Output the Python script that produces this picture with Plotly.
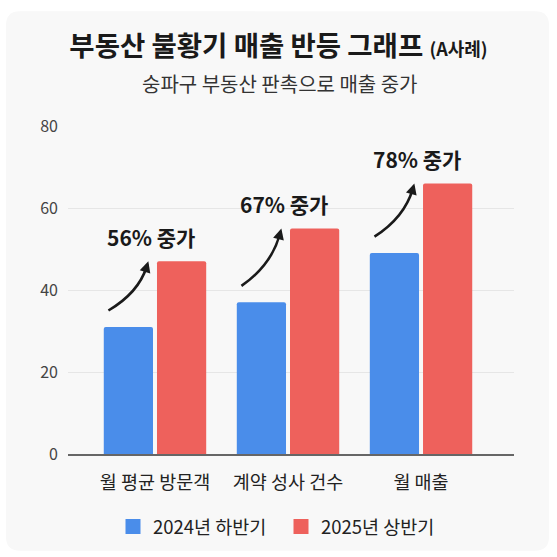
import plotly.graph_objects as go

categories = ["월 평균 방문객", "계약 성사 건수", "월 매출"]
series_names = ["2024년 하반기", "2025년 상반기"]
values_2024 = [31, 37, 49]
values_2025 = [47, 55, 66]
growth_labels = ["56% 중가", "67% 중가", "78% 중가"]
y_ticks = [0, 20, 40, 60, 80]

BLUE = "#4a8dea"
RED = "#ee615c"
FONT = "Noto Sans CJK KR"

W, H = 557, 557
ML, MR, MT, MB = 68, 43, 126, 102
XR = [-0.654, 2.699]
YR = [0, 80]
pw = W - ML - MR
ph = H - MT - MB
px_x = (XR[1] - XR[0]) / pw   # data units per pixel
px_y = (YR[1] - YR[0]) / ph

xs = list(range(len(categories)))

fig = go.Figure()
fig.add_trace(go.Bar(x=xs, y=values_2024, name=series_names[0], marker_color=BLUE,
                     marker_line_width=0, showlegend=False))
fig.add_trace(go.Bar(x=xs, y=values_2025, name=series_names[1], marker_color=RED,
                     marker_line_width=0, showlegend=False))
# legend proxies
for nm, col in zip(series_names, [BLUE, RED]):
    fig.add_trace(go.Scatter(x=[None], y=[None], mode="markers", name=nm,
                             marker=dict(symbol="square", size=15, color=col)))

def px2paper_x(p):
    return (p - ML) / pw

def px2paper_y(p):
    return (H - MB - p) / ph

# card background
cx0, cx1, cy0, cy1, r = 6, 549, 11, 552, 14
def P(x, y):
    return f"{px2paper_x(x):.5f},{px2paper_y(y):.5f}"
card = (f"M {P(cx0 + r, cy0)} L {P(cx1 - r, cy0)} Q {P(cx1, cy0)} {P(cx1, cy0 + r)} "
        f"L {P(cx1, cy1 - r)} Q {P(cx1, cy1)} {P(cx1 - r, cy1)} "
        f"L {P(cx0 + r, cy1)} Q {P(cx0, cy1)} {P(cx0, cy1 - r)} "
        f"L {P(cx0, cy0 + r)} Q {P(cx0, cy0)} {P(cx0 + r, cy0)} Z")
shapes = [dict(type="path", xref="paper", yref="paper", path=card,
               fillcolor="#f8f8f8", line=dict(width=0), layer="below")]

annotations = []
# subtitle
annotations.append(dict(xref="paper", yref="paper", x=px2paper_x(280), y=px2paper_y(83.5),
                        text="숭파구 부동산 판촉으로 매출 중가", showarrow=False,
                        xanchor="center", yanchor="middle",
                        font=dict(family=FONT, size=20, color="#333333")))

# growth arrows and labels
for i, (b, rv, lab) in enumerate(zip(values_2024, values_2025, growth_labels)):
    x0, y0 = i - 0.35, b + 4
    x2, y2 = i - 0.05, rv
    dx, dy = x2 - x0, y2 - y0
    cxp, cyp = x0 + 0.75 * dx, y0 + 0.36 * dy
    tx, ty = (x2 - cxp) / px_x, (y2 - cyp) / px_y
    n = (tx ** 2 + ty ** 2) ** 0.5
    ux, uy = tx / n, ty / n
    back = 6
    ex, ey = x2 - ux * back * px_x, y2 - uy * back * px_y
    shapes.append(dict(type="path", xref="x", yref="y",
                       path=f"M {x0},{y0} Q {cxp},{cyp} {ex},{ey}",
                       line=dict(color="#1a1a1a", width=2.6)))
    L = 10
    annotations.append(dict(x=x2, y=y2, xref="x", yref="y", text="", showarrow=True,
                            ax=-ux * L, ay=uy * L, axref="pixel", ayref="pixel",
                            arrowhead=2, arrowsize=0.85, arrowwidth=2.6,
                            arrowcolor="#1a1a1a"))
    annotations.append(dict(x=i - 0.03, y=rv + 6, xref="x", yref="y", text=f"<b>{lab}</b>",
                            showarrow=False, xanchor="center", yanchor="middle",
                            font=dict(family=FONT, size=21, color="#1a1a1a")))

fig.update_layout(
    width=W, height=H,
    margin=dict(l=ML, r=MR, t=MT, b=MB),
    paper_bgcolor="#ffffff",
    plot_bgcolor="rgba(0,0,0,0)",
    barmode="group", bargap=0.2, bargroupgap=0.075, barcornerradius=2,
    title=dict(text="<b>부동산 불황기 매출 반등 그래프</b> <span style='font-size:18px'><b>(A사례)</b></span>",
               xref="container", yref="container", x=0.5, xanchor="center",
               y=1 - 46 / H, yanchor="middle",
               font=dict(family=FONT, size=27.5, color="#1a1a1a")),
    xaxis=dict(range=XR, tickvals=xs, ticktext=categories, showgrid=False, zeroline=False,
               showline=True, linecolor="#666666", linewidth=2,
               ticks="", ticklabelstandoff=11,
               tickfont=dict(family=FONT, size=18.5, color="#222222"), fixedrange=True),
    yaxis=dict(range=YR, tickvals=y_ticks, showgrid=True, gridcolor="#e6e6e6", gridwidth=1,
               zeroline=False, showline=False, ticks="", ticklabelstandoff=9,
               tickfont=dict(family=FONT, size=16, color="#444444"), fixedrange=True),
    legend=dict(orientation="h", x=px2paper_x(281), xanchor="center",
                y=px2paper_y(527), yanchor="middle",
                font=dict(family=FONT, size=18.5, color="#222222"),
                entrywidth=123, entrywidthmode="pixels", bgcolor="rgba(0,0,0,0)"),
    shapes=shapes,
    annotations=annotations,
    font=dict(family=FONT),
)

fig.write_html("out.html")
